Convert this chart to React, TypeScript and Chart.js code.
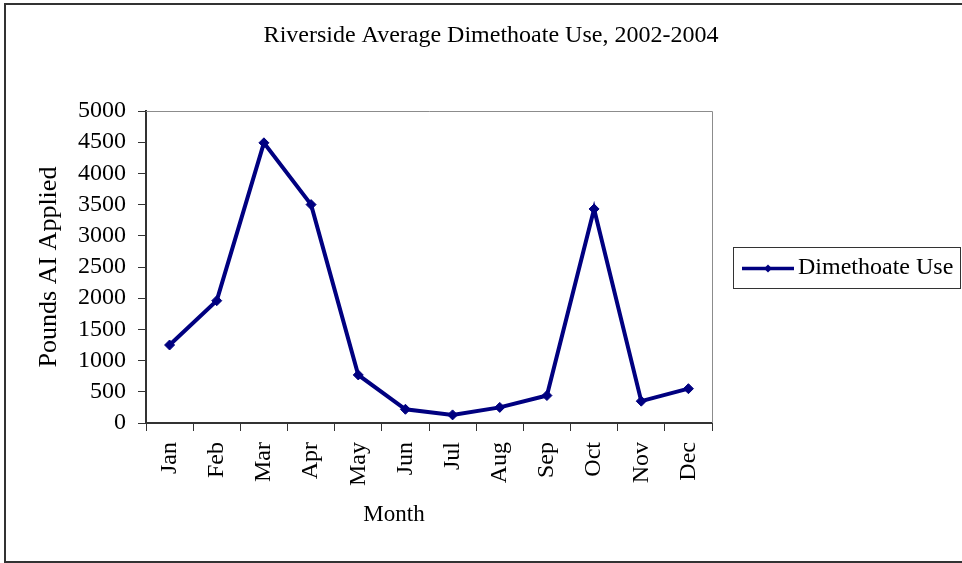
import React, { useEffect, useRef } from "react";
import { Chart, registerables } from "chart.js";

Chart.register(...registerables);

const months = ["Jan", "Feb", "Mar", "Apr", "May", "Jun", "Jul", "Aug", "Sep", "Oct", "Nov", "Dec"];
const dimethoateUse = [1250, 1960, 4490, 3500, 770, 220, 130, 250, 440, 3430, 350, 550];
const seriesLabel = "Dimethoate Use";
const chartTitle = "Riverside Average Dimethoate Use, 2002-2004";
const xTitle = "Month";
const yTitle = "Pounds AI Applied";
const yMin = 0;
const yMax = 5000;
const yStep = 500;

const FONT = "'Liberation Serif', 'Times New Roman', serif";
const NAVY = "#000080";
const AXIS = "#333333";

const decorPlugin = {
  id: "decor",
  beforeDraw(chart: any) {
    const { ctx, width, height } = chart;
    ctx.save();
    ctx.fillStyle = "#ffffff";
    ctx.fillRect(0, 0, width, height);
    ctx.strokeStyle = "#333333";
    ctx.lineWidth = 2;
    ctx.strokeRect(5, 4, width + 10, 558);
    ctx.restore();
  },
  beforeDatasetsDraw(chart: any) {
    const { ctx, chartArea } = chart;
    ctx.save();
    ctx.strokeStyle = "#8c8c8c";
    ctx.lineWidth = 1;
    ctx.beginPath();
    ctx.moveTo(chartArea.left, chartArea.top + 0.5);
    ctx.lineTo(chartArea.right + 0.5, chartArea.top + 0.5);
    ctx.lineTo(chartArea.right + 0.5, chartArea.bottom);
    ctx.stroke();
    ctx.restore();
  },
  afterDraw(chart: any) {
    const { ctx } = chart;
    ctx.save();
    // Title
    ctx.fillStyle = "#000000";
    ctx.font = `24px ${FONT}`;
    ctx.textAlign = "center";
    ctx.textBaseline = "middle";
    ctx.fillText(chartTitle, 491, 36);
    // X axis title
    ctx.font = `23px ${FONT}`;
    ctx.fillText(xTitle, 394, 515);
    // Legend
    const ds = chart.data.datasets[0];
    ctx.strokeStyle = "#333333";
    ctx.lineWidth = 1;
    ctx.strokeRect(733.5, 247.5, 227, 41);
    ctx.strokeStyle = ds.borderColor;
    ctx.lineWidth = 3.5;
    ctx.beginPath();
    ctx.moveTo(742, 268.5);
    ctx.lineTo(794, 268.5);
    ctx.stroke();
    ctx.fillStyle = ds.borderColor;
    ctx.beginPath();
    const cx = 768, cy = 268.5, r = 4;
    ctx.moveTo(cx, cy - r);
    ctx.lineTo(cx + r, cy);
    ctx.lineTo(cx, cy + r);
    ctx.lineTo(cx - r, cy);
    ctx.closePath();
    ctx.fill();
    ctx.fillStyle = "#000000";
    ctx.textAlign = "left";
    ctx.font = `24px ${FONT}`;
    ctx.fillText(ds.label, 798, 268);
    ctx.restore();
  },
};

export default function App() {
  const canvasRef = useRef<HTMLCanvasElement>(null);

  useEffect(() => {
    document.body.style.margin = "0";
    const canvas = canvasRef.current;
    if (!canvas) return;
    const chart = new Chart(canvas, {
      type: "line",
      data: {
        labels: months,
        datasets: [
          {
            label: seriesLabel,
            data: dimethoateUse,
            borderColor: NAVY,
            backgroundColor: NAVY,
            borderWidth: 4,
            pointStyle: "rectRot",
            pointRadius: 5,
            pointBorderWidth: 1,
            pointBackgroundColor: NAVY,
            pointBorderColor: NAVY,
            tension: 0,
            fill: false,
          },
        ],
      },
      options: {
        responsive: false,
        animation: false,
        devicePixelRatio: 1,
        layout: { padding: { left: 0, right: 250, top: 111, bottom: 0 } },
        plugins: {
          legend: { display: false },
          title: { display: false },
          tooltip: { enabled: false },
        },
        scales: {
          x: {
            type: "category",
            offset: true,
            grid: {
              offset: true,
              drawOnChartArea: false,
              drawTicks: true,
              tickLength: 8,
              color: AXIS,
              lineWidth: 1,
            },
            border: { display: true, color: AXIS, width: 2 },
            ticks: {
              minRotation: 90,
              maxRotation: 90,
              autoSkip: false,
              padding: 11,
              color: "#000000",
              font: { family: FONT, size: 24 },
            },
            afterFit(scale: any) {
              scale.height = 140;
            },
          },
          y: {
            min: yMin,
            max: yMax,
            grid: {
              drawOnChartArea: false,
              drawTicks: true,
              tickLength: 8,
              color: AXIS,
              lineWidth: 1,
            },
            border: { display: true, color: AXIS, width: 2 },
            ticks: {
              stepSize: yStep,
              autoSkip: false,
              padding: 12,
              color: "#000000",
              font: { family: FONT, size: 24, lineHeight: 1 },
              callback: (v: any) => String(v),
            },
            title: {
              display: true,
              text: yTitle,
              color: "#000000",
              font: { family: FONT, size: 26 },
              padding: { top: 34, bottom: 0 },
            },
            afterFit(scale: any) {
              scale.width = 146;
            },
          },
        },
      },
      plugins: [decorPlugin],
    });
    return () => chart.destroy();
  }, []);

  return (
    <div style={{ position: "absolute", left: 0, top: 0, width: 962, height: 563, background: "#fff" }}>
      <canvas ref={canvasRef} width={962} height={563} style={{ display: "block", width: 962, height: 563 }} />
    </div>
  );
}
